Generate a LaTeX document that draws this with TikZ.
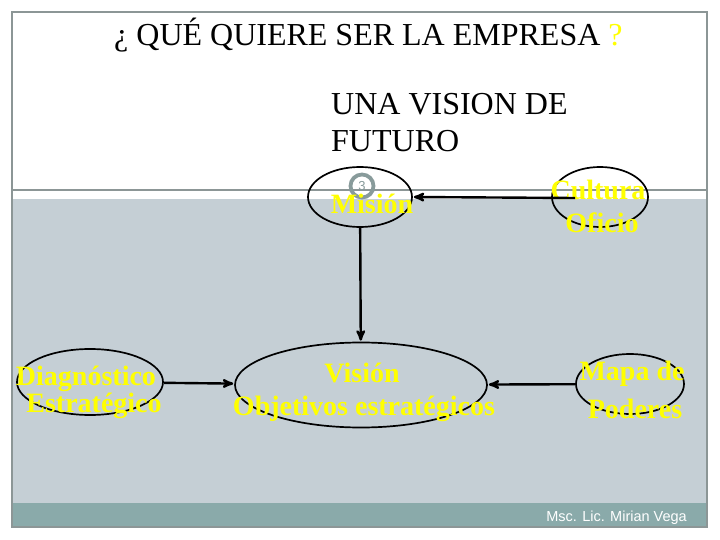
\documentclass[tikz,border=0pt]{standalone}
\usepackage{fontspec}
\setmainfont{Liberation Serif}
\newfontfamily\piefont{Liberation Sans}
\usetikzlibrary{arrows,shapes.geometric}

\definecolor{amarillo}{RGB}{255,255,0}
\definecolor{fondo}{RGB}{197,207,213}
\definecolor{banda}{RGB}{138,170,170}
\definecolor{borde}{RGB}{140,150,150}
\definecolor{anillo}{RGB}{136,155,155}

\begin{document}
\begin{tikzpicture}[x=1pt,y=-1pt,->,>=stealth',shorten >=1pt,
                    line width=2.4pt,
                    oval/.style={draw,ellipse,line width=1.7pt,inner sep=0pt},
                    etiqueta/.style={text=amarillo,anchor=base,inner sep=0pt,
                      font=\bfseries\fontsize{28}{30}\selectfont},
                    titulo/.style={anchor=base west,inner sep=0pt,
                      font=\fontsize{32}{36}\selectfont}]
  % \tikzstyle{every node}=[draw=red]

  \useasboundingbox (0,0) rectangle (720,540);
  \fill[white] (0,0) rectangle (720,540);
  \fill[fondo] (12,199) rectangle (707,503);
  \fill[banda] (12,503) rectangle (707,527);
  \draw[-,borde,line width=1.2pt] (12,190) -- (707,190);
  \draw[-,borde,line width=1.2pt] (12,12) rectangle (707,527);

  \node[titulo] (preg)  at (113,46)  {¿ QUÉ QUIERE SER LA EMPRESA \textcolor{amarillo}{?}};
  \node[titulo] (vis1)  at (330,115) {UNA VISION DE};
  \node[titulo] (vis2)  at (330,152) {FUTURO};

  \node[circle,draw=anillo,line width=3.8pt,minimum size=23pt,inner sep=0pt,
        text=anillo,font=\piefont\fontsize{13}{13}\selectfont] (num) at (362,186) {3};

  \node[oval,minimum width=104pt,minimum height=60pt] (mis) at (360,197) {};
  \node[oval,minimum width=96pt,minimum height=60pt]  (cul) at (600,197) {};
  \node[oval,minimum width=146pt,minimum height=66pt] (dia) at (90,382)  {};
  \node[oval,minimum width=252pt,minimum height=85pt] (vis) at (361,385) {};
  \node[oval,minimum width=108pt,minimum height=60pt] (map) at (630,384) {};
  \coordinate (culin) at (575,198);

  \node[etiqueta] (tmis) at (372,214) {Misión};
  \node[etiqueta] (tcul) at (598,200) {Cultura};
  \node[etiqueta] (tofi) at (602,233) {Oficio};
  \node[etiqueta] (tdia) at (86,385)  {Diagnóstico};
  \node[etiqueta] (test) at (94,412)  {Estratégico};
  \node[etiqueta] (tvis) at (362,382) {Visión};
  \node[etiqueta] (tobj) at (364,415) {Objetivos estratégicos};
  \node[etiqueta] (tmap) at (632,380) {Mapa de};
  \node[etiqueta] (tpod) at (635,418) {Poderes};

  \path (culin) edge (mis.east)
        (mis)   edge (vis)
        (dia)   edge (vis)
        (map)   edge (vis);

  \node[anchor=base east,inner sep=0pt,text=white,
        font=\piefont\fontsize{14.5}{16}\selectfont] (autor) at (688,521) {Msc. Lic. Mirian Vega};
\end{tikzpicture}
\end{document}
